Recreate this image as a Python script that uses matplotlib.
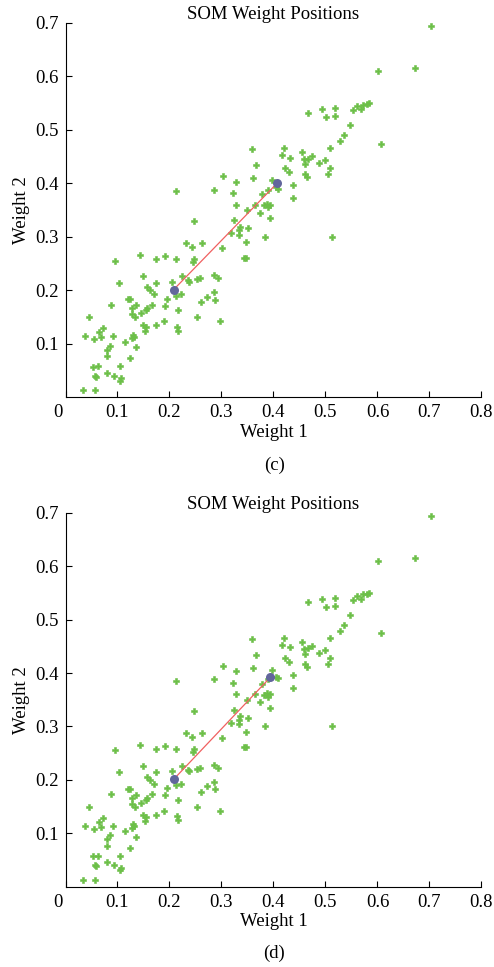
import matplotlib.pyplot as plt
import matplotlib.transforms as mtransforms
import numpy as np

plt.rcParams['font.family'] = ['Liberation Serif', 'DejaVu Serif']

# sample points (weight 1, weight 2)
w1 = [0.703, 0.673, 0.601, 0.606, 0.466, 0.493, 0.518, 0.501, 0.518, 0.552,
      0.561, 0.569, 0.572, 0.579, 0.583, 0.548, 0.536, 0.527, 0.509, 0.455,
      0.421, 0.417, 0.432, 0.459, 0.466, 0.474, 0.460, 0.487, 0.500, 0.509,
      0.423, 0.430, 0.461, 0.464, 0.505, 0.437, 0.437, 0.359, 0.367, 0.360,
      0.302, 0.327, 0.286, 0.323, 0.327, 0.364, 0.378, 0.389, 0.398, 0.382,
      0.387, 0.393, 0.390, 0.350, 0.375, 0.393, 0.325, 0.336, 0.333, 0.333,
      0.319, 0.351, 0.347, 0.384, 0.344, 0.348, 0.513, 0.301, 0.248, 0.262,
      0.232, 0.244, 0.248, 0.245, 0.212, 0.212, 0.191, 0.175, 0.144, 0.096,
      0.103, 0.149, 0.175, 0.205, 0.225, 0.235, 0.238, 0.253, 0.258, 0.286,
      0.294, 0.157, 0.163, 0.171, 0.212, 0.222, 0.196, 0.285, 0.272, 0.261,
      0.288, 0.217, 0.253, 0.298, 0.121, 0.125, 0.087, 0.136, 0.167, 0.127,
      0.127, 0.133, 0.146, 0.154, 0.157, 0.191, 0.046, 0.149, 0.154, 0.153,
      0.174, 0.190, 0.214, 0.217, 0.037, 0.054, 0.091, 0.065, 0.073, 0.068,
      0.129, 0.131, 0.128, 0.114, 0.136, 0.086, 0.080, 0.080, 0.124, 0.053,
      0.063, 0.057, 0.058, 0.080, 0.094, 0.104, 0.107, 0.105, 0.033, 0.057,
      0.405, 0.409]
w2 = [0.694, 0.616, 0.609, 0.474, 0.532, 0.538, 0.540, 0.524, 0.525, 0.536,
      0.544, 0.539, 0.547, 0.548, 0.550, 0.509, 0.490, 0.479, 0.466, 0.458,
      0.466, 0.452, 0.448, 0.445, 0.446, 0.451, 0.436, 0.438, 0.443, 0.429,
      0.429, 0.421, 0.417, 0.411, 0.417, 0.397, 0.372, 0.464, 0.434, 0.409,
      0.413, 0.403, 0.388, 0.382, 0.360, 0.360, 0.379, 0.388, 0.406, 0.359,
      0.362, 0.360, 0.356, 0.350, 0.345, 0.335, 0.331, 0.319, 0.312, 0.304,
      0.306, 0.316, 0.290, 0.300, 0.261, 0.261, 0.300, 0.278, 0.329, 0.288,
      0.288, 0.280, 0.258, 0.252, 0.385, 0.258, 0.264, 0.258, 0.266, 0.255,
      0.214, 0.226, 0.214, 0.216, 0.226, 0.219, 0.216, 0.221, 0.222, 0.228,
      0.222, 0.206, 0.200, 0.193, 0.190, 0.192, 0.184, 0.196, 0.188, 0.177,
      0.182, 0.163, 0.150, 0.142, 0.183, 0.183, 0.173, 0.172, 0.173, 0.166,
      0.155, 0.150, 0.157, 0.162, 0.166, 0.171, 0.149, 0.135, 0.131, 0.123,
      0.135, 0.142, 0.132, 0.124, 0.114, 0.108, 0.114, 0.121, 0.129, 0.112,
      0.117, 0.113, 0.110, 0.104, 0.093, 0.096, 0.089, 0.077, 0.073, 0.057,
      0.058, 0.040, 0.038, 0.046, 0.040, 0.058, 0.036, 0.031, 0.013, 0.013,
      0.393, 0.390]

# neuron weights: first neuron fixed, second neuron per panel
neuron_a = (0.208, 0.201)
neuron_b_c = (0.407, 0.400)
neuron_b_d = (0.394, 0.392)
panel_labels = ['(c)', '(d)']

green = '#6cbf48'
blue = '#62669c'
red = '#f06060'

fig = plt.figure(figsize=(4.94, 9.67), dpi=100)
ax_c = fig.add_axes([0.1326, 0.5893, 0.842, 0.3872])
ax_d = fig.add_axes([0.1326, 0.0830, 0.842, 0.3868])


def draw_panel(ax, nb):
    ax.plot(w1, w2, 'P', color=green, markersize=4.6, markeredgewidth=0.4,
            markeredgecolor=green, linestyle='none')
    ax.plot([neuron_a[0], nb[0]], [neuron_a[1], nb[1]], color=red, lw=0.9)
    ax.plot([neuron_a[0], nb[0]], [neuron_a[1], nb[1]], 'o', color=blue,
            markersize=6.5, markeredgewidth=0)
    ax.set_xlim(0, 0.8)
    ax.set_ylim(0, 0.7)
    ax.set_xticks(np.arange(0, 0.81, 0.1))
    ax.set_xticklabels(['0', '0.1', '0.2', '0.3', '0.4', '0.5', '0.6', '0.7', '0.8'])
    ax.set_yticks(np.arange(0.1, 0.71, 0.1))
    ax.set_yticklabels(['0.1', '0.2', '0.3', '0.4', '0.5', '0.6', '0.7'])
    ax.tick_params(direction='in', length=4, width=0.8, labelsize=13.5, pad=5)
    for s in ['top', 'right']:
        ax.spines[s].set_visible(False)
    for s in ['left', 'bottom']:
        ax.spines[s].set_linewidth(0.8)
    ax.set_title('SOM Weight Positions', fontsize=13.5, pad=0)
    ax.set_xlabel('Weight 1', fontsize=13.5, labelpad=2)
    ax.set_ylabel('Weight 2', fontsize=13.5, labelpad=4)
    # the "0" label sits a little left of the axis
    lab0 = ax.get_xticklabels()[0]
    lab0.set_transform(lab0.get_transform() + mtransforms.ScaledTranslation(-8 / 100, 0, fig.dpi_scale_trans))


draw_panel(ax_c, neuron_b_c)
draw_panel(ax_d, neuron_b_d)

fig.text(0.555, 1 - 465 / 967, panel_labels[0], ha='center', va='center', fontsize=13.5)
fig.text(0.555, 1 - 953 / 967, panel_labels[1], ha='center', va='center', fontsize=13.5)

fig.savefig('out.png', dpi=100)
